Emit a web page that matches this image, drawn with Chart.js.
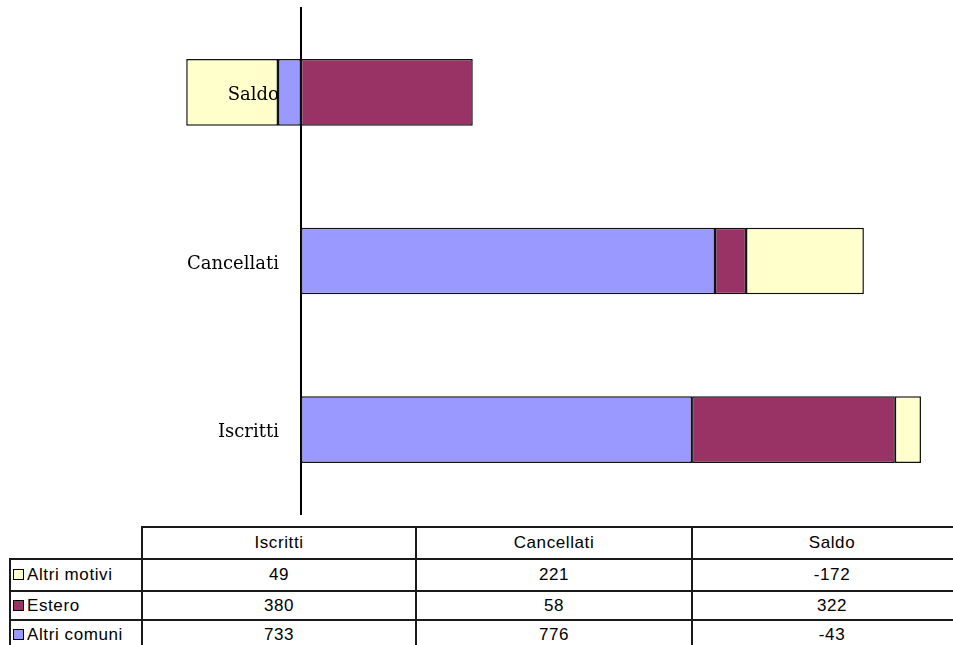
<!DOCTYPE html>
<html>
<head>
<meta charset="utf-8">
<script src="https://cdn.jsdelivr.net/npm/chart.js@4/dist/chart.umd.min.js"></script>
<style>
  body { margin: 0; background: #fff; width: 953px; height: 645px; overflow: hidden; position: relative; }
  #chartBox { position: absolute; left: 0; top: 0; width: 953px; height: 520px; }
  #dataTable { position: absolute; left: 9px; top: 526px; width: 962px; border-collapse: collapse; table-layout: fixed;
    font-family: "Liberation Sans", Arial, sans-serif; font-size: 17px; letter-spacing: 0.6px; color: #000; }
  #dataTable td { border: 2px solid #1a1a1a; text-align: center; padding: 0; white-space: nowrap; overflow: hidden; }
  #dataTable td.lbl { text-align: left; padding-left: 2px; letter-spacing: 0.6px; }
  #dataTable td.blank { border-left: none; border-top: none; }
  .sw { display: inline-block; width: 9px; height: 9px; border: 1px solid #000; margin-right: 3px; vertical-align: 0px; }
</style>
</head>
<body>
<div id="chartBox"><canvas id="movChart"></canvas></div>
<table id="dataTable"></table>
<script>
var categories = ['Iscritti', 'Cancellati', 'Saldo'];
var altriComuni = [733, 776, -43];
var estero = [380, 58, 322];
var altriMotivi = [49, 221, -172];

var seriesNames = ['Altri motivi', 'Estero', 'Altri comuni'];
var seriesColors = ['#FFFFCC', '#993366', '#9999FF'];

// category names drawn just left of the zero line, on top of the bars
var categoryLabels = {
    id: 'categoryLabels',
    afterDatasetsDraw: function (chart) {
        var c = chart.ctx;
        var x0 = chart.scales.x.getPixelForValue(0);
        c.save();
        c.font = '18px "DejaVu Serif", "Liberation Serif", serif';
        c.fillStyle = '#000';
        c.textAlign = 'right';
        c.textBaseline = 'middle';
        chart.data.labels.forEach(function (lab, i) {
            c.fillText(lab, x0 - 22, chart.scales.y.getPixelForValue(i) + 3);
        });
        c.restore();
    }
};

var ctx = document.getElementById('movChart').getContext('2d');
var chart = new Chart(ctx, {
    // horizontal stacked bars
    type: 'bar',

    data: {
        labels: categories,
        datasets: [{
            label: 'Altri comuni',
            backgroundColor: '#9999FF',
            data: altriComuni,
        }, {
            label: 'Estero',
            backgroundColor: '#993366',
            data: estero,
        }, {
            label: 'Altri motivi',
            backgroundColor: '#FFFFCC',
            data: altriMotivi,
        }]
    },

    options: {
        indexAxis: 'y',
        responsive: true,
        maintainAspectRatio: false,
        animation: false,
        layout: { padding: { top: 8, bottom: 6, left: 0, right: 0 } },
        datasets: {
            bar: {
                borderColor: '#111',
                borderWidth: 1.5,
                borderSkipped: false,
                categoryPercentage: 1,
                barPercentage: 0.395
            }
        },
        plugins: {
            legend: { display: false },
            tooltip: { enabled: false }
        },
        scales: {
            x: {
                display: false,
                stacked: true,
                min: -564,
                max: 1222
            },
            y: {
                stacked: true,
                reverse: true,
                position: { x: 0 },
                grid: { display: false, drawTicks: false },
                border: { display: true, color: '#000', width: 2 },
                ticks: { display: false }
            }
        }
    },
    plugins: [categoryLabels]
});

// data table under the chart
var rows = [altriMotivi, estero, altriComuni];
var table = document.getElementById('dataTable');
var html = '<colgroup><col style="width:132px"><col style="width:274px"><col style="width:276px"><col style="width:280px"></colgroup>';
html += '<tr style="height:32px"><td class="blank"></td>';
categories.forEach(function (c) { html += '<td>' + c + '</td>'; });
html += '</tr>';
rows.forEach(function (r, i) {
    var h = i === 0 ? 32 : 29;
    html += '<tr style="height:' + h + 'px"><td class="lbl"><span class="sw" style="background:' + seriesColors[i] + '"></span>' + seriesNames[i] + '</td>';
    r.forEach(function (v) { html += '<td>' + v + '</td>'; });
    html += '</tr>';
});
table.innerHTML = html;
</script>
</body>
</html>
